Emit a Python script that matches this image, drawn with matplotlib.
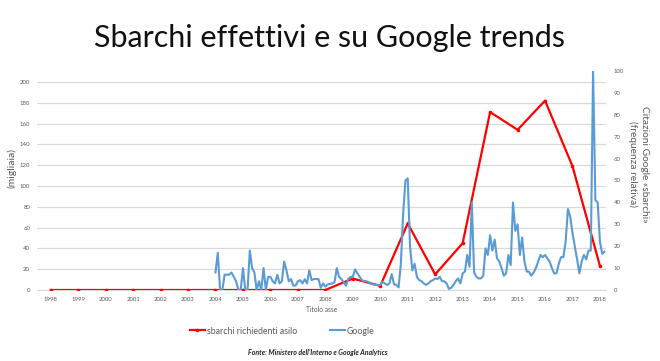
import matplotlib
matplotlib.use("Agg")
import matplotlib.pyplot as plt
from matplotlib.lines import Line2D
import numpy as np

plt.rcParams["font.family"] = ["Lato", "DejaVu Sans"]

# ---------------- data ----------------
years = list(range(1998, 2019))
sbarchi = [0, 0, 0, 0, 0, 0, 0, 0, 0, 0, 0, 11, 4, 64, 15, 45, 171, 154, 182, 119, 23]

google_start = (2004, 1)
google = [
    # 2004
    8, 17, 0, 0, 7, 7, 7, 8, 6, 4, 0, 0,
    # 2005
    10, 0, 0, 18, 10, 8, 0, 4, 0, 10, 0, 6,
    # 2006
    6, 4, 3, 7, 3, 4, 13, 9, 4, 5, 2, 2,
    # 2007
    4, 4.5, 3, 5, 3, 9, 4.5, 5, 5, 5, 1, 3,
    # 2008
    1.5, 2.5, 2.8, 3, 3.5, 10, 6, 5, 3.5, 2, 5, 6,
    # 2009
    6, 9.4, 7.6, 6, 4.5, 4, 4, 3.5, 3, 2.5, 2.3, 2.3,
    # 2010
    2.3, 3.8, 3, 2.3, 3, 7.3, 2.6, 2.3, 1.2, 12, 35, 50,
    # 2011
    51, 20, 9, 12, 6, 4.5, 4, 3, 2.3, 3, 4, 4.5,
    # 2012
    5.3, 5, 6, 4, 4, 3, 0.5, 1, 2.3, 4, 5.3, 3,
    # 2013
    7.6, 8.4, 16, 10.6, 40, 8, 6, 5.3, 5.3, 6.5, 19, 16,
    # 2014
    25, 18, 23, 14.5, 13, 10, 6.5, 7.6, 16, 11.4, 40, 27,
    # 2015
    30, 16, 24, 13, 8.4, 8.4, 6.5, 8, 10, 13, 16, 15,
    # 2016
    16, 14.5, 13, 10, 7.6, 7.6, 12, 15, 15, 22, 37, 33.5,
    # 2017
    26, 20, 14, 7.6, 13, 16, 14, 18, 18, 100, 41, 40,
    # 2018
    22, 16.5, 17.5,
]

left_ticks = list(range(0, 201, 20))
right_ticks = list(range(0, 101, 10))

# ---------------- figure ----------------
fig = plt.figure(figsize=(6.6, 3.61), dpi=100)
fig.patch.set_facecolor("white")
ax = fig.add_axes([37 / 660, 71 / 361, 569 / 660, 219 / 361])
ax2 = ax.twinx()

grey = "#595959"
grid = "#D9D9D9"
red = "#FF0000"
blue = "#5B9BD5"

# red series (left axis)
ax.plot(years, sbarchi, color=red, lw=1.6, marker="o", ms=2.6,
        markeredgewidth=0, zorder=3)

# blue series (right axis)
gx = [google_start[0] + (google_start[1] - 1 + i) / 12 for i in range(len(google))]
ax2.plot(gx, google, color=blue, lw=1.5, zorder=2)

ax.set_xlim(1997.5, 2018.22)
ax.set_ylim(0, 210.5)
ax2.set_ylim(0, 100)

ax.set_yticks(left_ticks)
ax2.set_yticks(right_ticks)
ax.set_xticks(years)
ax.set_xticklabels([str(y) for y in years])

ax.grid(axis="y", color=grid, lw=0.9)
ax.set_axisbelow(True)
for a in (ax, ax2):
    for s in a.spines.values():
        s.set_visible(False)
    a.tick_params(length=0, labelsize=4.3, labelcolor=grey)
ax.spines["bottom"].set_visible(True)
ax.spines["bottom"].set_color(grid)
ax.tick_params(axis="y", pad=5)
ax.tick_params(axis="x", pad=5)
ax2.tick_params(axis="y", pad=5.5)

ax.set_xlabel("Titolo asse", fontsize=4.8, color=grey, labelpad=3)
ax.set_ylabel("(migliaia)", fontsize=7.5, color=grey)
ax.yaxis.set_label_coords((12 - 37) / 569, (290 - 168) / 219)
ax.yaxis.label.set_va("center")
ax.yaxis.label.set_ha("center")

ax2.set_ylabel("Citazioni Google «sbarchi»\n(frequenza relativa)", fontsize=7.3,
               color=grey, rotation=-90, linespacing=1.25)
ax2.yaxis.set_label_coords((638.5 - 37) / 569, (290 - 164) / 219)
ax2.yaxis.label.set_va("center")
ax2.yaxis.label.set_ha("center")

# title
fig.text(0.5, 1 - 38 / 361, "Sbarchi effettivi e su Google trends",
         ha="center", va="center", fontsize=22, color="#111111")

# legend (two single-entry legends)
h_red = Line2D([], [], color=red, lw=1.6, marker="o", ms=2.6, markeredgewidth=0)
h_blue = Line2D([], [], color=blue, lw=1.5)
for h, lab, x0 in ((h_red, "sbarchi richiedenti asilo", 190), (h_blue, "Google", 330)):
    fig.legend([h], [lab], loc="center left", bbox_to_anchor=(x0 / 660, 1 - 331 / 361),
               frameon=False, fontsize=6.3, labelcolor=grey, handlelength=1.7,
               handletextpad=0.25, borderpad=0, borderaxespad=0)

fig.text(318 / 660, 1 - 352 / 361, "Fonte: Ministero dell\u2019Interno e Google Analytics",
         ha="center", va="center", fontsize=5.0, style="italic", weight="bold",
         color="#222222")

fig.savefig("out.png", dpi=100)
